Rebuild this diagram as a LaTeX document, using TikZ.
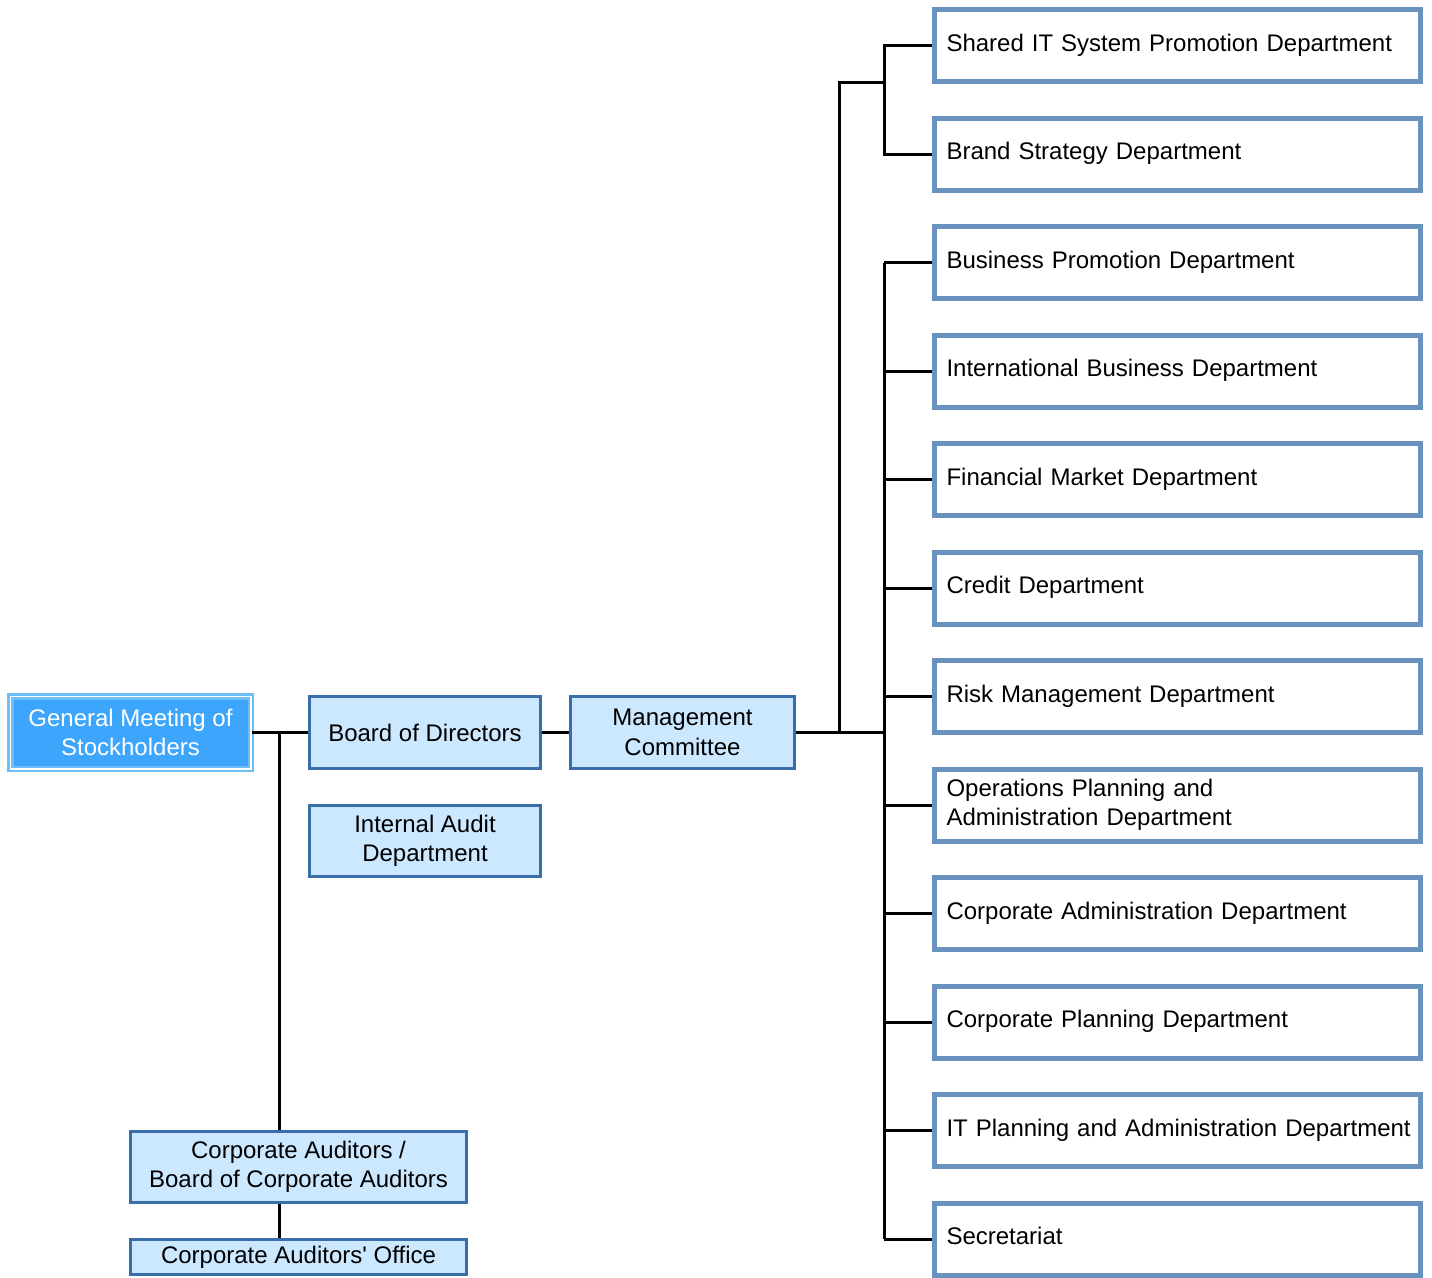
\documentclass[tikz,border=0pt]{standalone}
\usepackage{fontspec}
\setmainfont{Liberation Sans}
\definecolor{deptline}{HTML}{6A92BF}
\definecolor{orgline}{HTML}{3A6EA8}
\definecolor{orgfill}{HTML}{CCE8FF}
\definecolor{topfill}{HTML}{3DA6FC}
\definecolor{topline}{HTML}{6EBFF8}

\begin{document}
\begin{tikzpicture}[x=1pt,y=-1pt,
    every node/.style={font=\fontsize{24}{29.5}\selectfont},
    link/.style={line width=3pt, black},
    deptbox/.style={draw=deptline, line width=5pt, fill=white, anchor=west,
        minimum height=72pt, text width=462pt, inner xsep=12pt, inner ysep=0pt, align=left},
    orgbox/.style={draw=orgline, line width=3pt, fill=orgfill, align=center, inner sep=0pt},
    topbox/.style={draw=topline, line width=2.5pt, double=white, double distance=1.5pt,
        fill=topfill, text=white, align=center, inner sep=0pt}]
    \useasboundingbox (0,0) rectangle (1432,1277);

    % left side
    \node [topbox, minimum width=240.5pt, minimum height=72.5pt] (gms) at (130.5,732.5)
        {General Meeting of\\Stockholders};
    \node [orgbox, minimum width=231pt, minimum height=72pt] (bod) at (425,732.5)
        {Board of Directors};
    \node [orgbox, minimum width=224pt, minimum height=72pt] (mc) at (682.5,732.5)
        {Management\\Committee};
    \node [orgbox, minimum width=231pt, minimum height=71pt] (iad) at (425,841)
        {Internal Audit\\Department};
    \node [orgbox, minimum width=336pt, minimum height=71pt] (ca) at (298.5,1167)
        {Corporate Auditors /\\Board of Corporate Auditors};
    \node [orgbox, minimum width=336pt, minimum height=35pt] (cao) at (298.5,1257)
        {Corporate Auditors\textquotesingle{} Office};

    % departments
    \foreach \name [count=\i] in {Shared IT System Promotion Department,
        Brand Strategy Department, Business Promotion Department,
        International Business Department, Financial Market Department,
        Credit Department, Risk Management Department,
        {Operations Planning and\\Administration Department},
        Corporate Administration Department, Corporate Planning Department,
        IT Planning and Administration Department, Secretariat}
        \node [deptbox] (d\i) at (932,{45.5+108.5*(\i-1)})
            {\begin{tabular}{@{}l@{}}\name\end{tabular}};

    % connectors
    \draw [link] (gms.east) -- (bod.west);
    \draw [link] (bod.east) -- (mc.west);
    \coordinate (aj) at (279.5,732.5);
    \draw [link] (aj) -- (aj |- ca.north);
    \draw [link] (aj |- ca.south) -- (aj |- cao.north);

    \coordinate (tr) at (884,732.5);
    \coordinate (tg) at (839,82);
    \draw [link] (mc.east) -- (tr);
    \draw [link] (tr |- d3.west) -- (tr |- d12.west);
    \foreach \i in {3,...,12}
        \draw [link] (d\i.west) -- (d\i.west -| tr);
    \draw [link] (tg |- tr) -- (tg) -- (tg -| tr);
    \draw [link] (d1.west) -- (d1.west -| tr) -- (d2.west -| tr) -- (d2.west);
\end{tikzpicture}
\end{document}
